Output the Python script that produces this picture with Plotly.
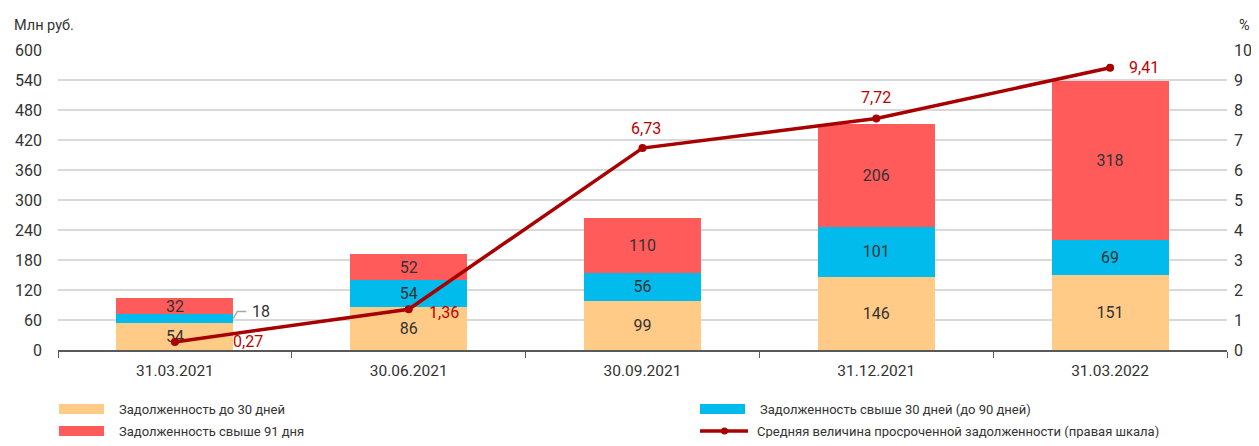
import plotly.graph_objects as go

categories = ["31.03.2021", "30.06.2021", "30.09.2021", "31.12.2021", "31.03.2022"]
debt_30 = [54, 86, 99, 146, 151]
debt_30_90 = [18, 54, 56, 101, 69]
debt_91 = [32, 52, 110, 206, 318]
avg_overdue = [0.27, 1.36, 6.73, 7.72, 9.41]
avg_labels = ["0,27", "1,36", "6,73", "7,72", "9,41"]

y_ticks = list(range(0, 601, 60))
y2_ticks = list(range(0, 11))

C_ORANGE = "#FFCB87"
C_BLUE = "#00BBEB"
C_RED = "#FF5B5B"
C_LINE = "#A80000"
C_LBL = "#C00000"
TXT = "#333333"
FONT = "Roboto"

# page geometry (browser body has an 8px margin on every side)
OFF = 8
PAGE_W, PAGE_H = 1259, 446
PLOT_L, PLOT_R, PLOT_T, PLOT_B = 58, 1227, 50, 350
W, H = PAGE_W - 2 * OFF, PAGE_H - 2 * OFF
ML, MR, MT, MB = PLOT_L - OFF, (PAGE_W - OFF) - PLOT_R, PLOT_T - OFF, (PAGE_H - OFF) - PLOT_B
PW, PH = PLOT_R - PLOT_L, PLOT_B - PLOT_T


def px_x(px):
    return (px - PLOT_L) / PW


def px_y(py):
    return (PLOT_B - py) / PH


fig = go.Figure()

bar_font = dict(color=TXT, size=16, family=FONT)
fig.add_trace(go.Bar(
    x=categories, y=debt_30, name="Задолженность до 30 дней",
    marker=dict(color=C_ORANGE, line=dict(width=0)),
    text=[str(v) for v in debt_30], textposition="inside", insidetextanchor="middle",
    textangle=0, constraintext="none", textfont=bar_font,
    showlegend=False, hoverinfo="skip"))
fig.add_trace(go.Bar(
    x=categories, y=debt_30_90, name="Задолженность свыше 30 дней (до 90 дней)",
    marker=dict(color=C_BLUE, line=dict(width=0)),
    text=[""] + [str(v) for v in debt_30_90[1:]], textposition="inside", insidetextanchor="middle",
    textangle=0, constraintext="none", textfont=bar_font,
    showlegend=False, hoverinfo="skip"))
fig.add_trace(go.Bar(
    x=categories, y=debt_91, name="Задолженность свыше 91 дня",
    marker=dict(color=C_RED, line=dict(width=0)),
    text=[str(v) for v in debt_91], textposition="inside", insidetextanchor="middle",
    textangle=0, constraintext="none", textfont=bar_font,
    showlegend=False, hoverinfo="skip"))
fig.add_trace(go.Scatter(
    x=categories, y=avg_overdue, yaxis="y2", mode="lines+markers",
    name="Средняя величина просроченной задолженности (правая шкала)",
    line=dict(color=C_LINE, width=3.5), marker=dict(color=C_LINE, size=8),
    showlegend=False, hoverinfo="skip"))

# labels for line points
shifts = [(73, 0), (35, -3), (3, 20), (0, 21), (34, 0)]
for c, v, t, (dx, dy) in zip(categories, avg_overdue, avg_labels, shifts):
    fig.add_annotation(x=c, y=v, yref="y2", text=t, showarrow=False,
                       xshift=dx, yshift=dy, font=dict(color=C_LBL, size=16, family=FONT))

# outside label for the small blue segment, with an elbow leader line
blue_mid = debt_30[0] + debt_30_90[0] / 2
fig.add_shape(type="path", xref="x", yref="y", xsizemode="pixel", ysizemode="pixel",
              xanchor=0.25, yanchor=blue_mid, path="M0,0 L4,7 L13,7",
              line=dict(color="#A6A6A6", width=1.5))
fig.add_annotation(x=0.25, y=blue_mid, xref="x", yref="y", text=str(debt_30_90[0]),
                   showarrow=False, xanchor="left", xshift=17, yshift=7,
                   font=dict(color=TXT, size=16, family=FONT))

# axis titles
fig.add_annotation(x=px_x(12), y=px_y(25), xref="paper", yref="paper",
                   text="Млн руб.", showarrow=False, xanchor="left", yanchor="middle",
                   font=dict(color=TXT, size=14.5, family=FONT))
fig.add_annotation(x=px_x(1252), y=px_y(25), xref="paper", yref="paper",
                   text="%", showarrow=False, xanchor="right", yanchor="middle",
                   font=dict(color=TXT, size=14.5, family=FONT))

# manual legend
legend_items = [
    ("bar", C_ORANGE, "Задолженность до 30 дней", 59, 409),
    ("bar", C_BLUE, "Задолженность свыше 30 дней (до 90 дней)", 700, 409),
    ("bar", C_RED, "Задолженность свыше 91 дня", 59, 431),
    ("line", C_LINE, "Средняя величина просроченной задолженности (правая шкала)", 700, 431),
]

for kind, col, label, x0, yc in legend_items:
    if kind == "bar":
        fig.add_shape(type="rect", xref="paper", yref="paper",
                      x0=px_x(x0), x1=px_x(x0 + 45),
                      y0=px_y(yc + 5), y1=px_y(yc - 5),
                      fillcolor=col, line=dict(width=0))
        tx = x0 + 58
    else:
        fig.add_shape(type="line", xref="paper", yref="paper",
                      x0=px_x(x0), x1=px_x(x0 + 48),
                      y0=px_y(yc), y1=px_y(yc),
                      line=dict(color=col, width=3.5))
        fig.add_shape(type="circle", xref="paper", yref="paper",
                      x0=px_x(x0 + 21), x1=px_x(x0 + 28),
                      y0=px_y(yc + 3.5), y1=px_y(yc - 3.5),
                      fillcolor=col, line=dict(width=0))
        tx = x0 + 55
    fig.add_annotation(x=px_x(tx), y=px_y(yc), xref="paper", yref="paper",
                       text=label, showarrow=False, xanchor="left", yanchor="middle",
                       font=dict(color=TXT, size=13, family=FONT))

fig.update_layout(
    width=W, height=H,
    margin=dict(l=ML, r=MR, t=MT, b=MB, pad=0, autoexpand=False),
    paper_bgcolor="white", plot_bgcolor="white",
    barmode="stack", bargap=0.5,
    font=dict(family=FONT, color=TXT, size=16),
    showlegend=False,
    xaxis=dict(type="category", showgrid=False, showline=True, linecolor="#595959", linewidth=1.5,
               ticks="outside", tickson="boundaries", ticklen=6, tickcolor="#595959",
               tickfont=dict(size=15.5, color=TXT), fixedrange=True, ticklabelstandoff=6,
               automargin=False),
    yaxis=dict(range=[0, 600], tickvals=y_ticks, showgrid=True, gridcolor="#D9D9D9", gridwidth=1.5,
               zeroline=False, showline=False, tickfont=dict(size=16, color=TXT), ticks="",
               ticklabelstandoff=15, automargin=False),
    yaxis2=dict(range=[0, 10], tickvals=y2_ticks, overlaying="y", side="right", showgrid=False,
                zeroline=False, showline=False, tickfont=dict(size=16, color=TXT),
                ticklabelstandoff=6, automargin=False),
)

fig.write_html("out.html")
